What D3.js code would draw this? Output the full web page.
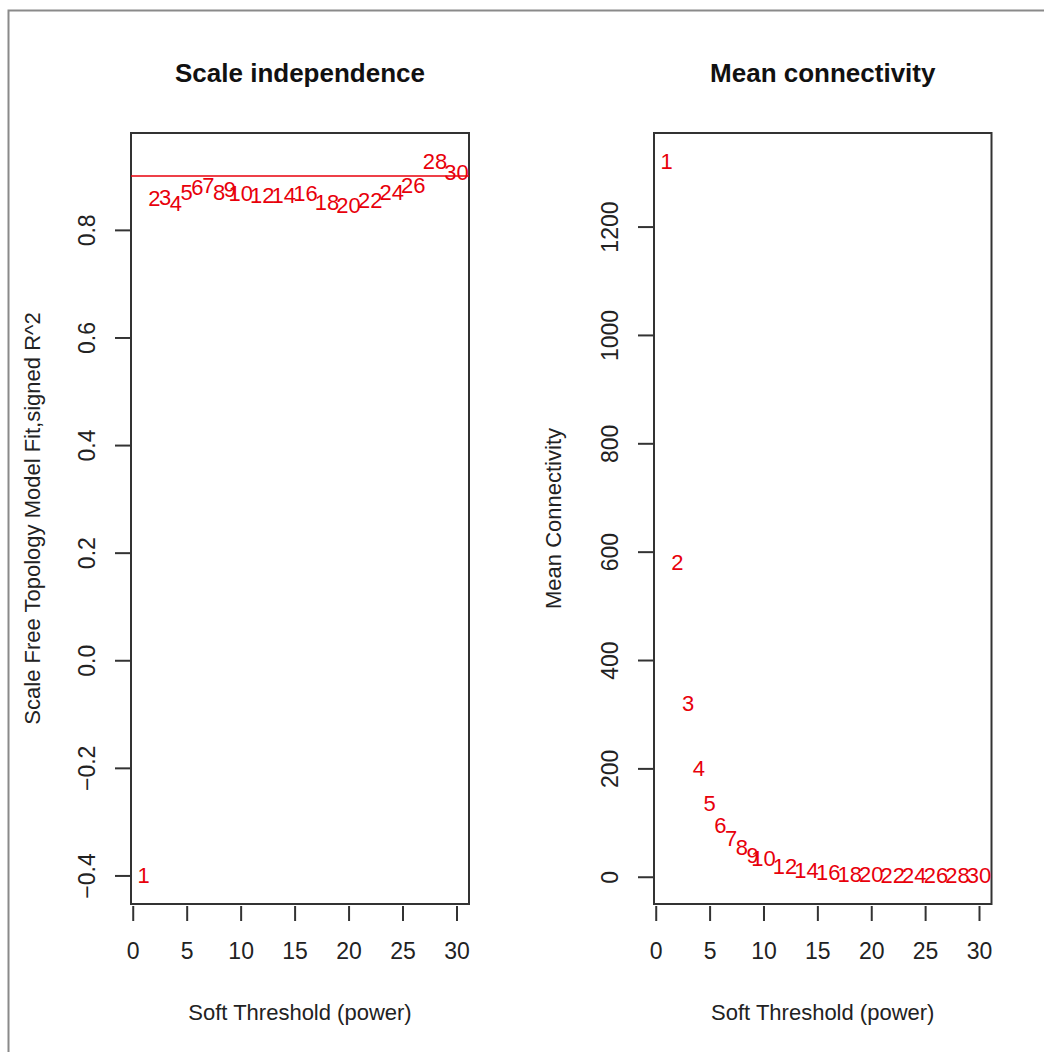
<!DOCTYPE html>
<html>
<head>
<meta charset="utf-8">
<script src="https://cdn.jsdelivr.net/npm/d3@7"></script>
<style>
  body { margin: 0; background: #fff; }
  text { font-family: "Liberation Sans", Arial, sans-serif; }
</style>
</head>
<body>
<div id="chart"></div>
<script>
// soft threshold powers (x) and the two series
var powers = [1, 2, 3, 4, 5, 6, 7, 8, 9, 10, 12, 14, 16, 18, 20, 22, 24, 26, 28, 30];
var fitR2 = [-0.40, 0.860, 0.861, 0.850, 0.871, 0.879, 0.884, 0.871, 0.875, 0.868,
             0.865, 0.865, 0.868, 0.852, 0.847, 0.856, 0.871, 0.884, 0.927, 0.908];
var meanK = [1320, 580, 321, 201, 136, 96, 71, 54, 40, 34,
             19, 12.5, 8, 5.5, 4.2, 3.5, 3.1, 2.8, 2.6, 2.4];

var xTicks = [0, 5, 10, 15, 20, 25, 30];
var fitTicks = [-0.4, -0.2, 0.0, 0.2, 0.4, 0.6, 0.8];
var kTicks = [0, 200, 400, 600, 800, 1000, 1200];
var cutLine = 0.9;

var svgWidth = 1044;
var svgHeight = 1052;

var svg = d3.select("#chart")
  .append("svg")
  .attr("width", svgWidth)
  .attr("height", svgHeight);

// grey frame of the original screenshot (only left and top edges visible)
svg.append("path")
  .attr("d", "M8.5,1052 V10.5 H1044")
  .attr("fill", "none")
  .attr("stroke", "#8a8a8a")
  .attr("stroke-width", 2);

var plotTop = 133;
var plotBottom = 904;

// R style range: data extent padded by 4% on each side
function padded(lo, hi) {
  var r = hi - lo;
  return [lo - 0.04 * r, hi + 0.04 * r];
}

function drawPanel(opts) {
  var xScale = d3.scaleLinear()
    .domain(padded(d3.min(powers), d3.max(powers)))
    .range([opts.left, opts.right]);
  var yScale = d3.scaleLinear()
    .domain(padded(d3.min(opts.values), d3.max(opts.values)))
    .range([plotBottom, plotTop]);

  var g = svg.append("g");

  // title
  g.append("text")
    .attr("x", (opts.left + opts.right) / 2)
    .attr("y", 82)
    .attr("text-anchor", "middle")
    .attr("font-size", "26px")
    .attr("font-weight", "bold")
    .attr("fill", "#111")
    .text(opts.title);

  // box
  g.append("rect")
    .attr("x", opts.left)
    .attr("y", plotTop)
    .attr("width", opts.right - opts.left)
    .attr("height", plotBottom - plotTop)
    .attr("fill", "none")
    .attr("stroke", "#333")
    .attr("stroke-width", 2);

  // x axis
  var xAxis = d3.axisBottom(xScale)
    .tickValues(xTicks)
    .tickSize(15)
    .tickPadding(22)
    .tickFormat(d3.format("d"));
  var xg = g.append("g")
    .attr("transform", "translate(0," + (plotBottom + 2) + ")")
    .call(xAxis);
  xg.select(".domain").remove();
  xg.selectAll(".tick line").attr("stroke", "#333").attr("stroke-width", 2);
  xg.selectAll(".tick text")
    .attr("font-size", "23px")
    .attr("fill", "#222")
    .attr("font-family", "Liberation Sans, Arial, sans-serif");

  // y axis (labels parallel to axis like R's default)
  var yAxis = d3.axisLeft(yScale)
    .tickValues(opts.ticks)
    .tickSize(15)
    .tickFormat(opts.format);
  var yg = g.append("g")
    .attr("transform", "translate(" + (opts.left - 1) + ",0)")
    .call(yAxis);
  yg.select(".domain").remove();
  yg.selectAll(".tick line").attr("stroke", "#333").attr("stroke-width", 2);
  yg.selectAll(".tick text")
    .attr("x", null)
    .attr("dy", null)
    .attr("transform", "translate(-43,0) rotate(-90)")
    .attr("text-anchor", "middle")
    .attr("dominant-baseline", "central")
    .attr("font-size", "23px")
    .attr("fill", "#222")
    .attr("font-family", "Liberation Sans, Arial, sans-serif");

  // axis titles
  g.append("text")
    .attr("x", (opts.left + opts.right) / 2)
    .attr("y", 1020)
    .attr("text-anchor", "middle")
    .attr("font-size", "22px")
    .attr("fill", "#222")
    .text("Soft Threshold (power)");

  g.append("text")
    .attr("transform", "translate(" + opts.yTitleX + "," + ((plotTop + plotBottom) / 2) + ") rotate(-90)")
    .attr("text-anchor", "middle")
    .attr("dominant-baseline", "central")
    .attr("font-size", "22px")
    .attr("fill", "#222")
    .text(opts.yTitle);

  if (opts.hline !== undefined) {
    g.append("line")
      .attr("x1", opts.left)
      .attr("x2", opts.right)
      .attr("y1", yScale(opts.hline))
      .attr("y2", yScale(opts.hline))
      .attr("stroke", "#e8000b")
      .attr("stroke-width", 1.5);
  }

  // point labels (they overlap in the original too)
  g.selectAll("text.pt")
    .data(powers)
    .enter()
    .append("text")
    .attr("class", "pt")
    .attr("x", function(d) { return xScale(d); })
    .attr("y", function(d, i) { return yScale(opts.values[i]); })
    .attr("dy", "0.36em")
    .attr("text-anchor", "middle")
    .attr("font-size", "22px")
    .attr("fill", "#e8000b")
    .text(function(d) { return d; });
}

drawPanel({
  left: 131, right: 469,
  values: fitR2,
  ticks: fitTicks,
  format: d3.format(".1f"),
  title: "Scale independence",
  yTitle: "Scale Free Topology Model Fit,signed R^2",
  yTitleX: 32,
  hline: cutLine
});

drawPanel({
  left: 654, right: 991.5,
  values: meanK,
  ticks: kTicks,
  format: d3.format("d"),
  title: "Mean connectivity",
  yTitle: "Mean Connectivity",
  yTitleX: 553
});
</script>
</body>
</html>
